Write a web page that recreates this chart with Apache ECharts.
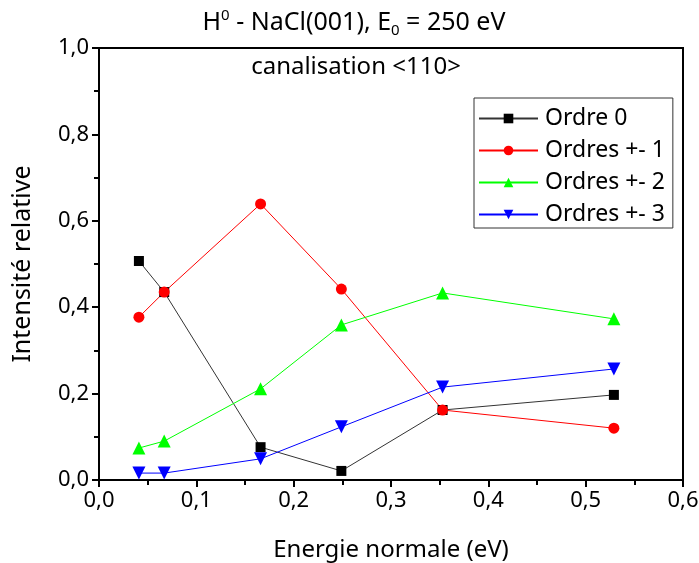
<!DOCTYPE html>
<html><head><meta charset="utf-8">
<script src="https://cdn.jsdelivr.net/npm/echarts@6/dist/echarts.min.js"></script>
<style>html,body{margin:0;padding:0;background:#fff}#c{width:699px;height:563px}</style>
</head><body><div id="c"></div>
<script>
const xValues = [0.041, 0.067, 0.166, 0.249, 0.353, 0.529];
const ordre0 = [0.507, 0.435, 0.076, 0.021, 0.162, 0.197];
const ordre1 = [0.377, 0.435, 0.639, 0.442, 0.162, 0.120];
const ordre2 = [0.074, 0.090, 0.211, 0.359, 0.433, 0.373];
const ordre3 = [0.016, 0.016, 0.049, 0.123, 0.215, 0.257];
const seriesNames = ['Ordre 0', 'Ordres +- 1', 'Ordres +- 2', 'Ordres +- 3'];
const xTicks = [0, 0.1, 0.2, 0.3, 0.4, 0.5, 0.6];
const yTicks = [0, 0.2, 0.4, 0.6, 0.8, 1.0];

const FONT = 'Noto Sans';
const pair = (ys) => xValues.map((x, i) => [x, ys[i]]);
const fmt = v => v.toFixed(1).replace('.', ',');

const chart = echarts.init(document.getElementById('c'));
const mk = (name, data, color, lineColor, symbol, size) => ({
  name, type: 'line', data: pair(data), symbol, symbolSize: size,
  itemStyle: { color }, lineStyle: { color: lineColor, width: 1 },
  emphasis: { disabled: true }, animation: false
});
chart.setOption({
  animation: false,
  textStyle: { fontFamily: FONT },
  title: [{
    text: '{n|H}{sup|0}{n| - NaCl(001), E}{sub|0}{n| = 250 eV}',
    left: 349, top: 3, textAlign: 'center',
    textStyle: { fontWeight: 'normal', rich: {
      n: { fontSize: 25, fontFamily: FONT, color: '#000', fontWeight: 'normal' },
      sup: { fontSize: 15, fontFamily: FONT, color: '#000', fontWeight: 'normal', verticalAlign: 'top', padding: [0,0,15,0] },
      sub: { fontSize: 15, fontFamily: FONT, color: '#000', fontWeight: 'normal', verticalAlign: 'bottom', padding: [15,0,0,0] }
    } }
  }, {
    text: 'canalisation <110>', left: 351, top: 50, textAlign: 'center',
    textStyle: { fontSize: 24, fontWeight: 'normal', fontFamily: FONT, color: '#000' }
  }],
  grid: { left: 99, right: 16, top: 48, bottom: 83, show: true, borderColor: '#000', borderWidth: 2, outerBoundsMode: 'none', containLabel: false },
  legend: {
    orient: 'vertical', left: 474, top: 98, width: 199,
    data: seriesNames,
    itemWidth: 59, itemHeight: 12, itemGap: 9,
    borderColor: '#333', borderWidth: 1, padding: [9, 8, 2, 4],
    textStyle: { fontSize: 23, fontFamily: FONT, color: '#000', padding: [0, 0, 0, 2] }
  },
  xAxis: {
    type: 'value', min: 0, max: 0.6, interval: 0.1,
    name: 'Energie normale (eV)', nameLocation: 'middle', nameGap: 58,
    nameTextStyle: { fontSize: 24, fontFamily: FONT, color: '#000' },
    axisLine: { lineStyle: { color: '#000', width: 2 } },
    axisTick: { show: true, length: 7, lineStyle: { color: '#000', width: 2 } },
    minorTick: { show: true, splitNumber: 2, length: 5, lineStyle: { color: '#000', width: 2 } },
    splitLine: { show: false },
    axisLabel: { fontSize: 22, color: '#000', fontFamily: FONT, margin: 10, formatter: fmt }
  },
  yAxis: {
    type: 'value', min: 0, max: 1, interval: 0.2,
    name: 'Intensité relative', nameLocation: 'middle', nameGap: 64,
    nameTextStyle: { fontSize: 25, fontFamily: FONT, color: '#000' },
    axisLine: { lineStyle: { color: '#000', width: 2 } },
    axisTick: { show: true, length: 7, lineStyle: { color: '#000', width: 2 } },
    minorTick: { show: true, splitNumber: 2, length: 5, lineStyle: { color: '#000', width: 2 } },
    splitLine: { show: false },
    axisLabel: { fontSize: 22, color: '#000', fontFamily: FONT, margin: 10, formatter: fmt }
  },
  series: [
    mk(seriesNames[0], ordre0, '#000000', '#333333', 'rect', 10),
    mk(seriesNames[1], ordre1, '#ff0000', '#ff0000', 'circle', 11),
    mk(seriesNames[2], ordre2, '#00ff00', '#00ff00', 'triangle', 13),
    mk(seriesNames[3], ordre3, '#0000ff', '#0000ff', 'path://M0,0 L10,0 L5,10 Z', 13)
  ]
});
</script></body></html>
